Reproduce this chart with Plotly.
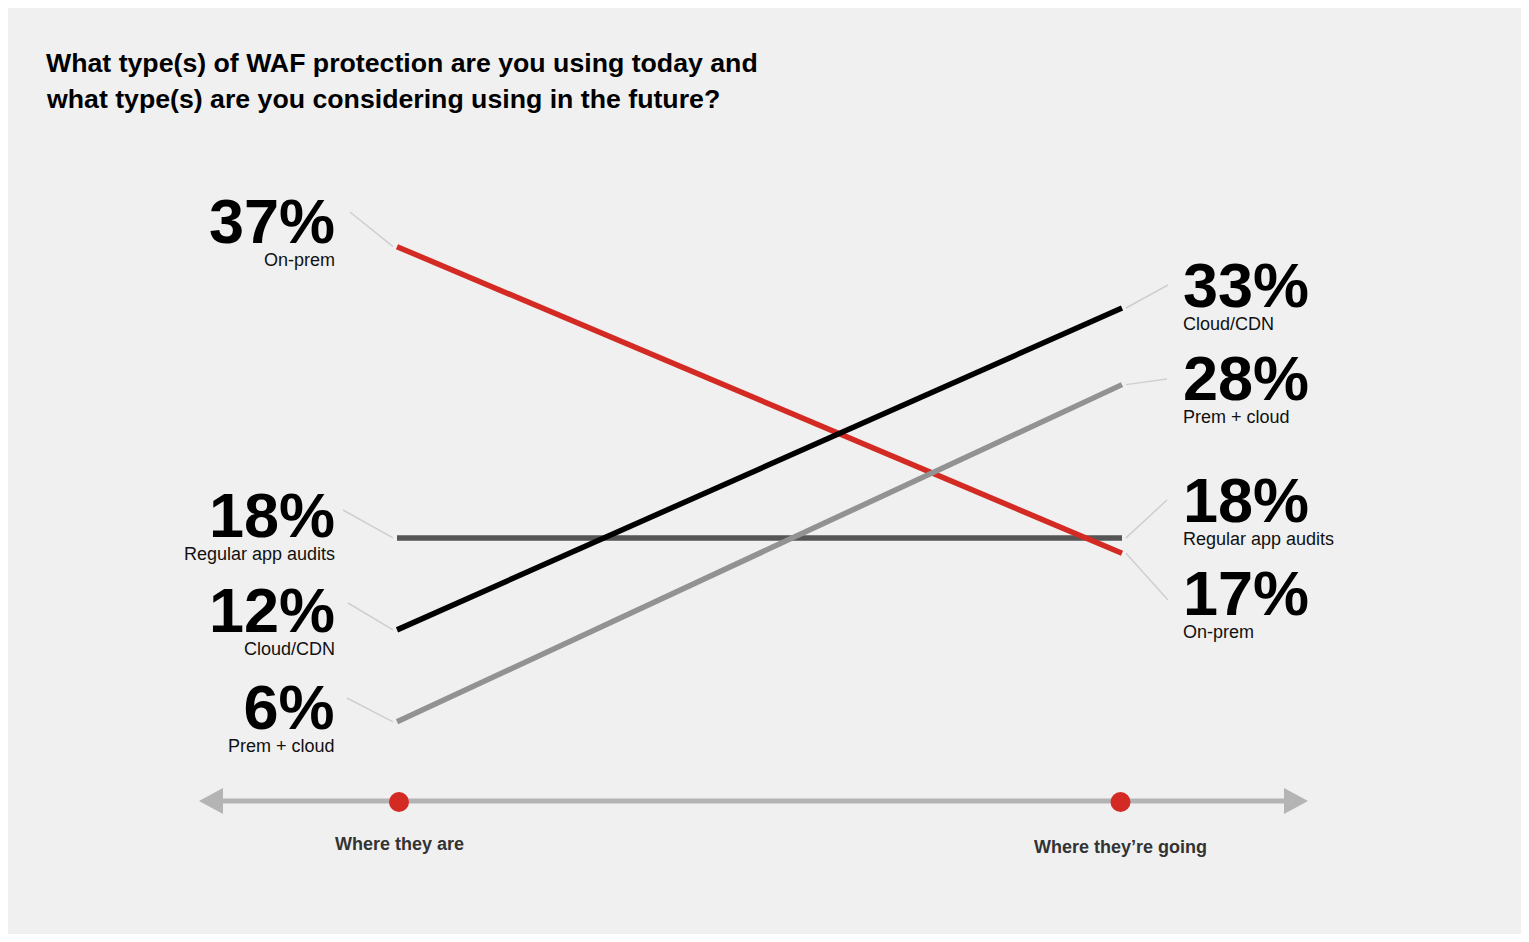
import plotly.graph_objects as go

# ---------------- data ----------------
stages = ["Where they are", "Where they\u2019re going"]
series_names = ["Regular app audits", "On-prem", "Prem + cloud", "Cloud/CDN"]
today = [18, 37, 6, 12]
future = [18, 17, 28, 33]
title_lines = ["What type(s) of WAF protection are you using today and",
               "what type(s) are you considering using in the future?"]

# ---------------- styles / layout ----------------
colors = {"Regular app audits": "#555555", "On-prem": "#d42a24",
          "Prem + cloud": "#929292", "Cloud/CDN": "#000000"}
BG = "#f0f0f0"
OFF = 8                      # body margin of the html page
W, H = 1513, 926
XR = [-0.53655, 1.55034]
YR = [-7.84, 52.57]
FONT = "Liberation Sans, Arial, sans-serif"
BIG_SIZE, SUB_SIZE = 63, 18


def fx(X):   # page pixel -> paper x
    return (X - OFF) / W


def fy(Y):   # page pixel -> paper y
    return 1 - (Y - OFF) / H


def page_y(v):
    return OFF + (YR[1] - v) / (YR[1] - YR[0]) * H


fig = go.Figure()

for i, name in enumerate(series_names):
    fig.add_trace(go.Scatter(
        x=[0, 1], y=[today[i], future[i]], mode="lines",
        line=dict(color=colors[name], width=5.5),
        hoverinfo="skip", showlegend=False, name=name))

# label placement: baseline of the big number, connector end point
left_pos = {"On-prem": (243, (350, 212)),
            "Regular app audits": (537, (343, 510)),
            "Cloud/CDN": (632, (348, 603)),
            "Prem + cloud": (729, (347, 698))}
right_pos = {"Cloud/CDN": (307, (1168, 285)),
             "Prem + cloud": (400, (1167, 379)),
             "Regular app audits": (522, (1167, 500)),
             "On-prem": (615, (1168, 600))}

# centre of the two-line label box relative to the big baseline
box_top = -0.905 * BIG_SIZE
box_bot = 1.3 * SUB_SIZE + 0.212 * SUB_SIZE
CENTER_OFF = (box_top + box_bot) / 2

annotations = []
shapes = []

for i, name in enumerate(series_names):
    for side, vals, pos in (("L", today, left_pos), ("R", future, right_pos)):
        v = vals[i]
        base_y, (ex, ey) = pos[name]
        if side == "L":
            X, anchor, xd, sx = 337, "right", 0, -4
        else:
            X, anchor, xd, sx = 1181, "left", 1, 4
        px_point = OFF + (xd - XR[0]) / (XR[1] - XR[0]) * W
        txt = (f"<span style='font-size:{BIG_SIZE}px;color:#000000'><b>{v}%</b></span>"
               f"<br>{name}")
        annotations.append(dict(text=txt, x=fx(X), y=fy(base_y + CENTER_OFF), xref="paper", yref="paper",
                                xanchor=anchor, yanchor="middle", align=anchor, showarrow=False,
                                font=dict(family=FONT, size=SUB_SIZE, color="#111111")))
        py = page_y(v)
        shapes.append(dict(type="line", xref="x", yref="y", xsizemode="pixel", ysizemode="pixel",
                           xanchor=xd, yanchor=v,
                           x0=sx, y0=0, x1=ex - px_point, y1=-(ey - py),
                           line=dict(color="#cfcfcf", width=1.5), layer="below"))

# bottom arrow axis
AX_Y = 801
AXC = "#b4b4b4"
shapes.append(dict(type="line", xref="paper", yref="paper", x0=fx(215), x1=fx(1290),
                   y0=fy(AX_Y), y1=fy(AX_Y), line=dict(color=AXC, width=5)))
shapes.append(dict(type="path", xref="paper", yref="paper",
                   path=f"M {fx(199)} {fy(AX_Y)} L {fx(223)} {fy(788)} L {fx(223)} {fy(814)} Z",
                   fillcolor=AXC, line=dict(width=0)))
shapes.append(dict(type="path", xref="paper", yref="paper",
                   path=f"M {fx(1308)} {fy(AX_Y)} L {fx(1284)} {fy(788)} L {fx(1284)} {fy(814)} Z",
                   fillcolor=AXC, line=dict(width=0)))
for xd, dx in ((0, 2), (1, -1.5)):
    shapes.append(dict(type="circle", xref="x", yref="paper", xsizemode="pixel", ysizemode="pixel",
                       xanchor=xd, yanchor=fy(AX_Y + 1), x0=dx - 10, x1=dx + 10, y0=-10, y1=10,
                       fillcolor="#d42a24", line=dict(width=0)))

for xd, Y, dx in ((0, 844, 2), (1, 846.5, -2)):
    annotations.append(dict(text=f"<b>{stages[xd]}</b>", x=xd, xref="x", xshift=dx, y=fy(Y), yref="paper",
                            xanchor="center", yanchor="middle", showarrow=False,
                            font=dict(family=FONT, size=18, color="#333333")))

for j, (line, Y) in enumerate(zip(title_lines, (63.5, 98.5))):
    annotations.append(dict(text=f"<b>{line}</b>", x=fx(44), y=fy(Y), xref="paper", yref="paper",
                            xanchor="left", yanchor="middle", showarrow=False,
                            font=dict(family=FONT, size=26.7, color="#000000")))

fig.update_layout(
    width=W, height=H, autosize=False,
    margin=dict(l=0, r=0, t=0, b=0, pad=0),
    paper_bgcolor=BG, plot_bgcolor=BG,
    xaxis=dict(range=XR, visible=False, fixedrange=True),
    yaxis=dict(range=YR, visible=False, fixedrange=True),
    annotations=annotations, shapes=shapes, showlegend=False,
)

fig.write_html("out.html", config={"displayModeBar": False})
